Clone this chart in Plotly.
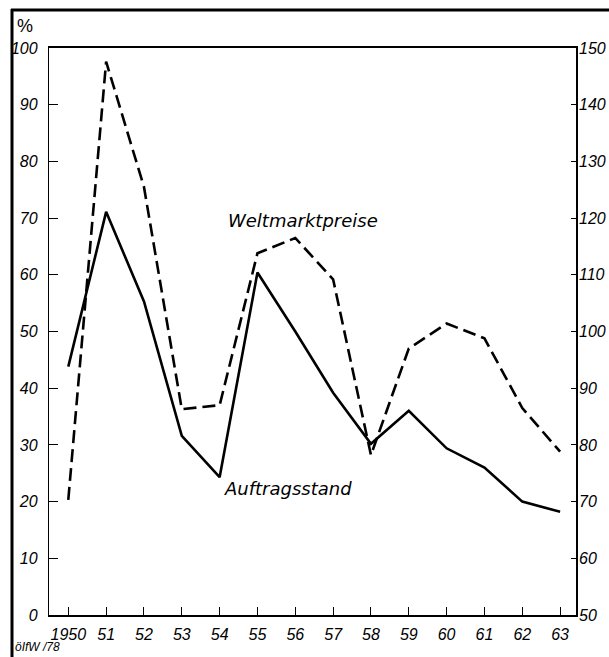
import plotly.graph_objects as go

years = [1950, 1951, 1952, 1953, 1954, 1955, 1956, 1957, 1958, 1959, 1960, 1961, 1962, 1963]
year_labels = ["1950", "51", "52", "53", "54", "55", "56", "57", "58", "59", "60", "61", "62", "63"]
auftragsstand = [43.8, 71.1, 55.3, 31.6, 24.3, 60.4, 50.0, 39.2, 30.2, 36.0, 29.4, 26.0, 20.0, 18.2]
weltmarktpreise = [70.3, 147.6, 125.5, 86.3, 87.0, 113.8, 116.5, 109.2, 78.2, 97.0, 101.4, 98.8, 86.5, 78.8]
left_ticks = [0, 10, 20, 30, 40, 50, 60, 70, 80, 90, 100]
right_ticks = [50, 60, 70, 80, 90, 100, 110, 120, 130, 140, 150]

num_font = dict(family="Liberation Sans", size=16, color="black", style="italic")
lbl_font = dict(family="DejaVu Sans", size=18, color="black", style="italic")

W, H = 609, 657
L, R, T, B = 49, 33, 48, 42

fig = go.Figure()
fig.add_trace(go.Scatter(x=years, y=auftragsstand, mode="lines",
                         line=dict(color="black", width=2.6), yaxis="y", showlegend=False,
                         hoverinfo="skip"))
fig.add_trace(go.Scatter(x=years, y=weltmarktpreise, mode="lines",
                         line=dict(color="black", width=2.6, dash="13px,6px"), yaxis="y2",
                         showlegend=False, hoverinfo="skip"))

fig.update_layout(
    width=W, height=H,
    margin=dict(l=L, r=R, t=T, b=B, pad=0),
    paper_bgcolor="white", plot_bgcolor="white",
    xaxis=dict(range=[1949.49, 1963.42], tickvals=years, ticktext=year_labels,
               ticks="inside", ticklen=8, tickwidth=1.3, tickcolor="black",
               showline=True, linewidth=2, linecolor="black", mirror=True,
               showgrid=False, zeroline=False, tickfont=num_font, ticklabelstandoff=4,
               automargin=False),
    yaxis=dict(range=[0, 100], tickvals=left_ticks, ticks="inside", ticklen=9, tickwidth=1.3,
               tickcolor="black", showline=True, linewidth=1.3, linecolor="black",
               showgrid=False, zeroline=False, tickfont=num_font, ticklabelstandoff=7,
               automargin=False),
    yaxis2=dict(range=[50, 150], tickvals=right_ticks, overlaying="y", side="right",
                ticks="inside", ticklen=5, tickwidth=1.3, tickcolor="black",
                showline=True, linewidth=1.6, linecolor="black",
                showgrid=False, zeroline=False, tickfont=num_font, ticklabelstandoff=-2,
                automargin=False),
)

# convert reference pixel positions to paper coords
def px(xp):
    return (xp - L) / (W - L - R)

def py(yp):
    return (H - B - yp) / (H - T - B)

fig.add_annotation(text="Weltmarktpreise", x=px(303), y=py(220), xref="paper", yref="paper",
                   xanchor="center", yanchor="middle", showarrow=False, font=lbl_font)
fig.add_annotation(text="Auftragsstand", x=px(288), y=py(488), xref="paper", yref="paper",
                   xanchor="center", yanchor="middle", showarrow=False, font=lbl_font)
fig.add_annotation(text="%", x=px(15), y=py(26), xref="paper", yref="paper",
                   xanchor="left", yanchor="middle", showarrow=False,
                   font=dict(family="Liberation Sans", size=18, color="black"))
fig.add_annotation(text="öIfW /78", x=px(13), y=py(647), xref="paper", yref="paper",
                   xanchor="left", yanchor="middle", showarrow=False,
                   font=dict(family="Liberation Sans", size=12, color="black", style="italic"))

# outer frame (left and top)
fig.add_shape(type="line", xref="paper", yref="paper", x0=px(12), x1=px(12), y0=py(9), y1=py(657),
              line=dict(color="black", width=3), layer="above")
fig.add_shape(type="line", xref="paper", yref="paper", x0=px(11), x1=px(609), y0=py(10), y1=py(10),
              line=dict(color="black", width=3), layer="above")

fig.write_html("out.html", config={"displayModeBar": False},
               post_script="document.body.style.margin='0px';")
